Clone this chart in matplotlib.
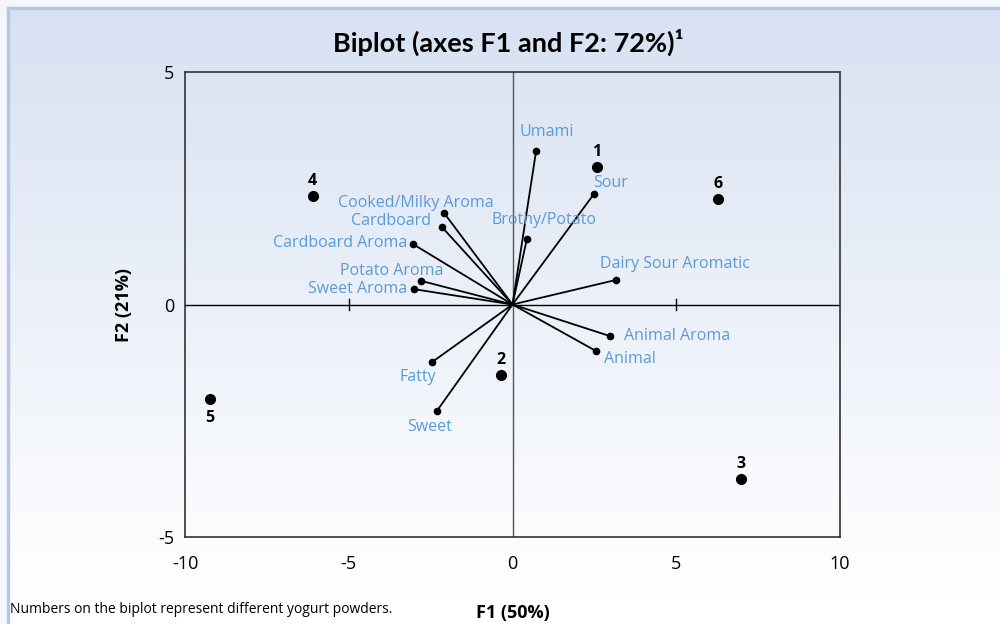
import matplotlib
matplotlib.use("Agg")
import matplotlib.pyplot as plt
import numpy as np
from matplotlib.patches import Rectangle

plt.rcParams['font.family'] = ['Open Sans', 'DejaVu Sans']

# yogurt powder scores (F1, F2)
sample_ids = ["1", "2", "3", "4", "5", "6"]
sample_f1 = [2.58, -0.35, 6.99, -6.10, -9.25, 6.28]
sample_f2 = [2.96, -1.52, -3.75, 2.33, -2.03, 2.27]

# attribute loadings (vector tips)
attr_names = ["Umami", "Sour", "Brothy/Potato", "Dairy Sour Aromatic", "Animal Aroma",
              "Animal", "Sweet", "Fatty", "Sweet Aroma", "Potato Aroma",
              "Cardboard Aroma", "Cardboard", "Cooked/Milky Aroma"]
attr_f1 = [0.72, 2.49, 0.44, 3.17, 2.98, 2.55, -2.31, -2.46, -3.01, -2.80, -3.04, -2.16, -2.09]
attr_f2 = [3.30, 2.38, 1.41, 0.53, -0.68, -1.00, -2.29, -1.24, 0.33, 0.51, 1.30, 1.67, 1.97]

# label offsets in points: (dx, dy, ha, va)
attr_lab = {
    "Umami": (8, 8, "center", "bottom"),
    "Sour": (12, 2, "center", "bottom"),
    "Brothy/Potato": (12, 8, "center", "bottom"),
    "Dairy Sour Aromatic": (42, 6, "center", "bottom"),
    "Animal Aroma": (10, 0, "left", "center"),
    "Animal": (6, -6, "left", "center"),
    "Sweet": (-5, -6, "center", "top"),
    "Fatty": (-10, -5, "center", "top"),
    "Sweet Aroma": (-5, 0, "right", "center"),
    "Potato Aroma": (16, 7, "right", "center"),
    "Cardboard Aroma": (-4, 1, "right", "center"),
    "Cardboard": (-8, 4, "right", "center"),
    "Cooked/Milky Aroma": (-20, 7, "center", "center"),
}
sample_lab = {"5": (0, -14)}

fig = plt.figure(figsize=(10, 6.24), dpi=100)

# background gradient and frame
bg = fig.add_axes([0, 0, 1, 1], zorder=-10)
grad = np.linspace(0, 1, 256).reshape(-1, 1)
top = np.array([0.843, 0.882, 0.949])
bot = np.array([1.0, 1.0, 1.0])
img = top + (bot - top) * np.clip(grad * 1.05, 0, 1)[..., None]
bg.imshow(img.reshape(256, 1, 3), aspect="auto", extent=[0, 1, 0, 1])
bg.add_patch(Rectangle((0, 0.99), 1, 0.01, color="#f4f6fb", transform=bg.transAxes))
bg.add_patch(Rectangle((0, 0), 0.007, 1, color="#f4f6fb", transform=bg.transAxes))
bg.plot([0.008, 1], [0.987, 0.987], color="#b4c8e6", lw=2.5, transform=bg.transAxes)
bg.plot([0.008, 0.008], [0, 0.987], color="#b4c8e6", lw=2.5, transform=bg.transAxes)
bg.set_xlim(0, 1)
bg.set_ylim(0, 1)
bg.axis("off")

ax = fig.add_axes([0.185, 0.1394, 0.655, 0.7452])
ax.set_facecolor("none")
ax.set_xlim(-10, 10)
ax.set_ylim(-5, 5)
for s in ax.spines.values():
    s.set_color("#333333")
    s.set_linewidth(1.2)

ax.axhline(0, color="black", lw=1)
ax.axvline(0, color="#555555", lw=1)
for t in [-5, 5]:
    ax.plot([t, t], [-0.12, 0.12], color="black", lw=1)

lab_col = "#5b9bd5"
for name, x, y in zip(attr_names, attr_f1, attr_f2):
    ax.plot([0, x], [0, y], color="black", lw=1.3)
    ax.plot(x, y, "o", color="black", ms=4.5)
    dx, dy, ha, va = attr_lab[name]
    ax.annotate(name, (x, y), xytext=(dx, dy), textcoords="offset points",
                ha=ha, va=va, color=lab_col, fontsize=11.5)

for sid, x, y in zip(sample_ids, sample_f1, sample_f2):
    ax.plot(x, y, "o", color="black", ms=7)
    dx, dy = sample_lab.get(sid, (0, 11))
    ax.annotate(sid, (x, y), xytext=(dx, dy), textcoords="offset points",
                ha="center", va="center", fontsize=11.5, fontweight="bold")

ax.set_xticks([-10, -5, 0, 5, 10])
ax.set_yticks([-5, 0, 5])
ax.set_xticklabels(["-10", "-5", "0", "5", "10"])
ax.set_yticklabels(["-5", "0", "5"])
ax.tick_params(length=0, labelsize=13, pad=8)
ax.tick_params(axis="x", pad=13)

ax.set_xlabel("F1 (50%)", fontsize=13, fontweight="bold", labelpad=22)
ax.set_ylabel("F2 (21%)", fontsize=13, fontweight="bold", labelpad=18)

fig.text(0.508, 0.932, "Biplot (axes F1 and F2: 72%)\u00b9", ha="center", va="center",
         fontsize=19.5, fontweight="bold", family="Lato")
fig.text(0.01, 0.023, "Numbers on the biplot represent different yogurt powders.",
         ha="left", va="center", fontsize=10)

fig.savefig("out.png", dpi=100)
